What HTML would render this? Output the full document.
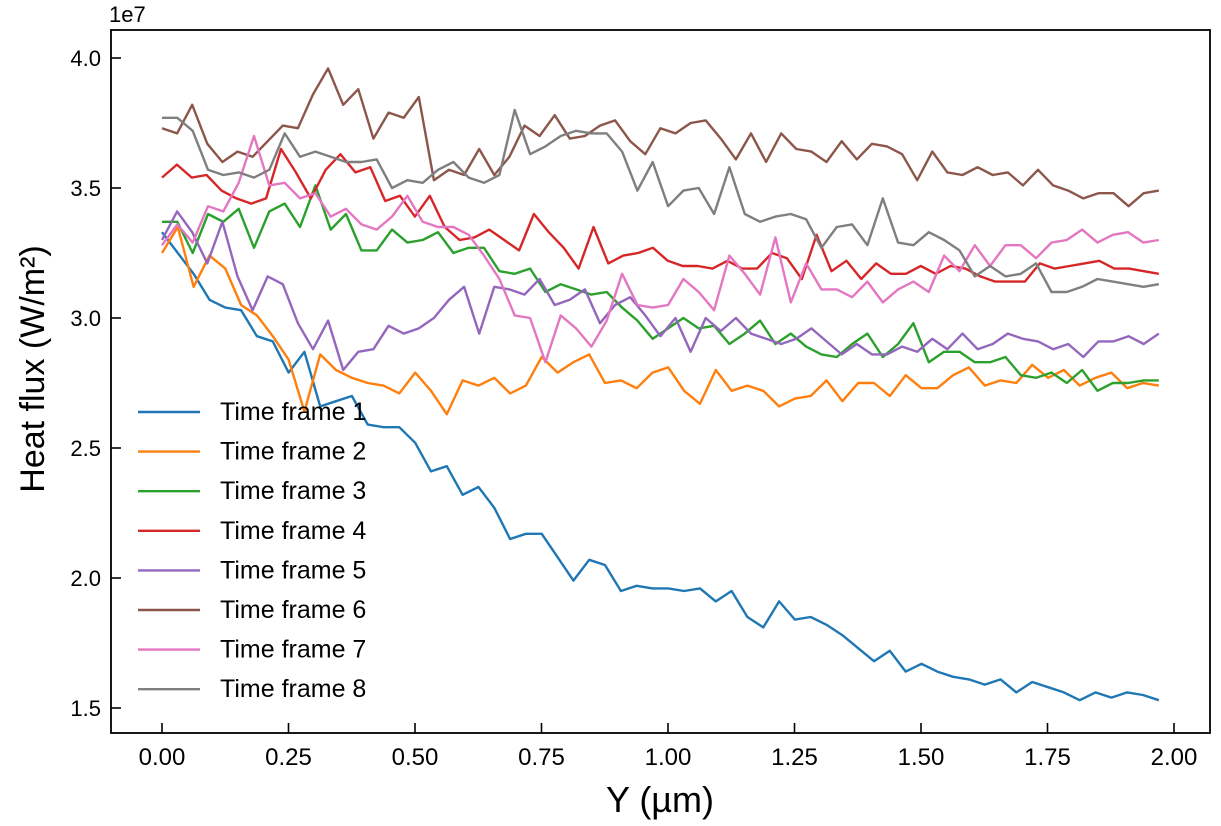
<!DOCTYPE html>
<html><head><meta charset="utf-8"><style>
body{margin:0;background:#fff;}
svg{display:block;font-family:"Liberation Sans",sans-serif;}
</style></head><body>
<svg id="s" width="1221" height="826" xmlns="http://www.w3.org/2000/svg"></svg>
<script>
const s=document.getElementById('s');
const L=111,R=1210,T=30,B=733;
const X=v=>162+v*506, Y=v=>58+(4.0-v)*260;
let h='';
h+=`<rect x="${L}" y="${T}" width="${R-L}" height="${B-T}" fill="none" stroke="#000" stroke-width="1.8"/>`;
[1.5,2.0,2.5,3.0,3.5,4.0].forEach(v=>{const y=Y(v);h+=`<line x1="${L}" y1="${y}" x2="${L+10}" y2="${y}" stroke="#000" stroke-width="1.6"/><text x="${L-10}" y="${y+8}" font-size="22" text-anchor="end">${v.toFixed(1)}</text>`;});
[0,0.25,0.5,0.75,1,1.25,1.5,1.75,2].forEach(v=>{const x=X(v);h+=`<line x1="${x}" y1="${B}" x2="${x}" y2="${B-10}" stroke="#000" stroke-width="1.6"/><text x="${x}" y="${B+32}" font-size="24" text-anchor="middle">${v.toFixed(2)}</text>`;});
h+=`<text x="109" y="22" font-size="22">1e7</text>`;
h+=`<text x="660" y="812" font-size="36" text-anchor="middle">Y (µm)</text>`;
h+=`<text transform="translate(44,369) rotate(-90)" font-size="34" text-anchor="middle">Heat flux (W/m²)</text>`;
const D=[
["#1f77b4",[3.33,3.25,3.17,3.07,3.04,3.03,2.93,2.91,2.79,2.87,2.66,2.68,2.70,2.59,2.58,2.58,2.52,2.41,2.43,2.32,2.35,2.27,2.15,2.17,2.17,2.08,1.99,2.07,2.05,1.95,1.97,1.96,1.96,1.95,1.96,1.91,1.95,1.85,1.81,1.91,1.84,1.85,1.82,1.78,1.73,1.68,1.72,1.64,1.67,1.64,1.62,1.61,1.59,1.61,1.56,1.60,1.58,1.56,1.53,1.56,1.54,1.56,1.55,1.53]],
["#ff7f0e",[3.25,3.35,3.12,3.24,3.19,3.05,3.01,2.93,2.84,2.64,2.86,2.80,2.77,2.75,2.74,2.71,2.79,2.72,2.63,2.76,2.74,2.77,2.71,2.74,2.85,2.79,2.83,2.86,2.75,2.76,2.73,2.79,2.81,2.72,2.67,2.80,2.72,2.74,2.72,2.66,2.69,2.70,2.76,2.68,2.75,2.75,2.70,2.78,2.73,2.73,2.78,2.81,2.74,2.76,2.75,2.82,2.77,2.80,2.74,2.77,2.79,2.73,2.75,2.74]],
["#2ca02c",[3.37,3.37,3.25,3.40,3.37,3.42,3.27,3.41,3.44,3.35,3.51,3.34,3.40,3.26,3.26,3.34,3.29,3.30,3.33,3.25,3.27,3.27,3.18,3.17,3.19,3.10,3.13,3.11,3.09,3.10,3.04,2.99,2.92,2.96,3.00,2.96,2.97,2.90,2.94,2.99,2.90,2.94,2.89,2.86,2.85,2.90,2.94,2.85,2.90,2.98,2.83,2.87,2.87,2.83,2.83,2.85,2.78,2.77,2.79,2.75,2.80,2.72,2.75,2.75,2.76,2.76]],
["#d62728",[3.54,3.59,3.54,3.55,3.49,3.46,3.44,3.46,3.65,3.56,3.46,3.57,3.63,3.56,3.58,3.45,3.47,3.39,3.47,3.35,3.30,3.31,3.34,3.30,3.26,3.40,3.33,3.27,3.19,3.35,3.21,3.24,3.25,3.27,3.22,3.20,3.20,3.19,3.22,3.19,3.19,3.25,3.23,3.15,3.32,3.18,3.22,3.15,3.21,3.17,3.17,3.20,3.17,3.20,3.19,3.16,3.14,3.14,3.14,3.21,3.19,3.20,3.21,3.22,3.19,3.19,3.18,3.17]],
["#9467bd",[3.30,3.41,3.33,3.21,3.37,3.16,3.03,3.16,3.13,2.98,2.88,2.99,2.80,2.87,2.88,2.97,2.94,2.96,3.00,3.07,3.12,2.94,3.12,3.11,3.09,3.15,3.05,3.07,3.11,2.98,3.05,3.08,3.01,2.93,3.00,2.87,3.00,2.95,3.00,2.94,2.92,2.90,2.92,2.96,2.91,2.86,2.90,2.86,2.86,2.89,2.87,2.92,2.88,2.94,2.88,2.90,2.94,2.92,2.91,2.88,2.90,2.85,2.91,2.91,2.93,2.90,2.94]],
["#8c564b",[3.73,3.71,3.82,3.67,3.60,3.64,3.62,3.68,3.74,3.73,3.86,3.96,3.82,3.88,3.69,3.79,3.77,3.85,3.53,3.57,3.55,3.65,3.55,3.62,3.74,3.70,3.78,3.69,3.70,3.74,3.76,3.68,3.63,3.73,3.71,3.75,3.76,3.69,3.61,3.71,3.60,3.71,3.65,3.64,3.60,3.68,3.61,3.67,3.66,3.63,3.53,3.64,3.56,3.55,3.58,3.55,3.56,3.51,3.57,3.51,3.49,3.46,3.48,3.48,3.43,3.48,3.49]],
["#e377c2",[3.28,3.36,3.29,3.43,3.41,3.52,3.70,3.51,3.52,3.46,3.48,3.39,3.42,3.36,3.34,3.39,3.47,3.37,3.35,3.35,3.32,3.24,3.15,3.01,3.00,2.83,3.01,2.96,2.89,2.99,3.17,3.05,3.04,3.05,3.15,3.10,3.03,3.24,3.17,3.09,3.31,3.06,3.21,3.11,3.11,3.08,3.14,3.06,3.11,3.14,3.10,3.24,3.18,3.28,3.20,3.28,3.28,3.23,3.29,3.30,3.34,3.29,3.32,3.33,3.29,3.30]],
["#7f7f7f",[3.77,3.77,3.72,3.57,3.55,3.56,3.54,3.57,3.71,3.62,3.64,3.62,3.60,3.60,3.61,3.50,3.53,3.52,3.57,3.60,3.54,3.52,3.55,3.80,3.63,3.66,3.70,3.72,3.71,3.71,3.64,3.49,3.60,3.43,3.49,3.50,3.40,3.58,3.40,3.37,3.39,3.40,3.38,3.27,3.35,3.36,3.28,3.46,3.29,3.28,3.33,3.30,3.26,3.16,3.20,3.16,3.17,3.21,3.10,3.10,3.12,3.15,3.14,3.13,3.12,3.13]]
];
D.forEach(([c,a])=>{const n=a.length;const p=a.map((v,i)=>X(i*1.97/(n-1)).toFixed(1)+','+Y(v).toFixed(1)).join(' ');h+=`<polyline points="${p}" fill="none" stroke="${c}" stroke-width="2.4" stroke-linejoin="round"/>`;});
D.forEach(([c],i)=>{const y=412+i*39.6;h+=`<line x1="138" y1="${y}" x2="200" y2="${y}" stroke="${c}" stroke-width="2.4"/><text x="220" y="${y+8}" font-size="25">Time frame ${i+1}</text>`;});
s.innerHTML=h;
</script>
</body></html>
